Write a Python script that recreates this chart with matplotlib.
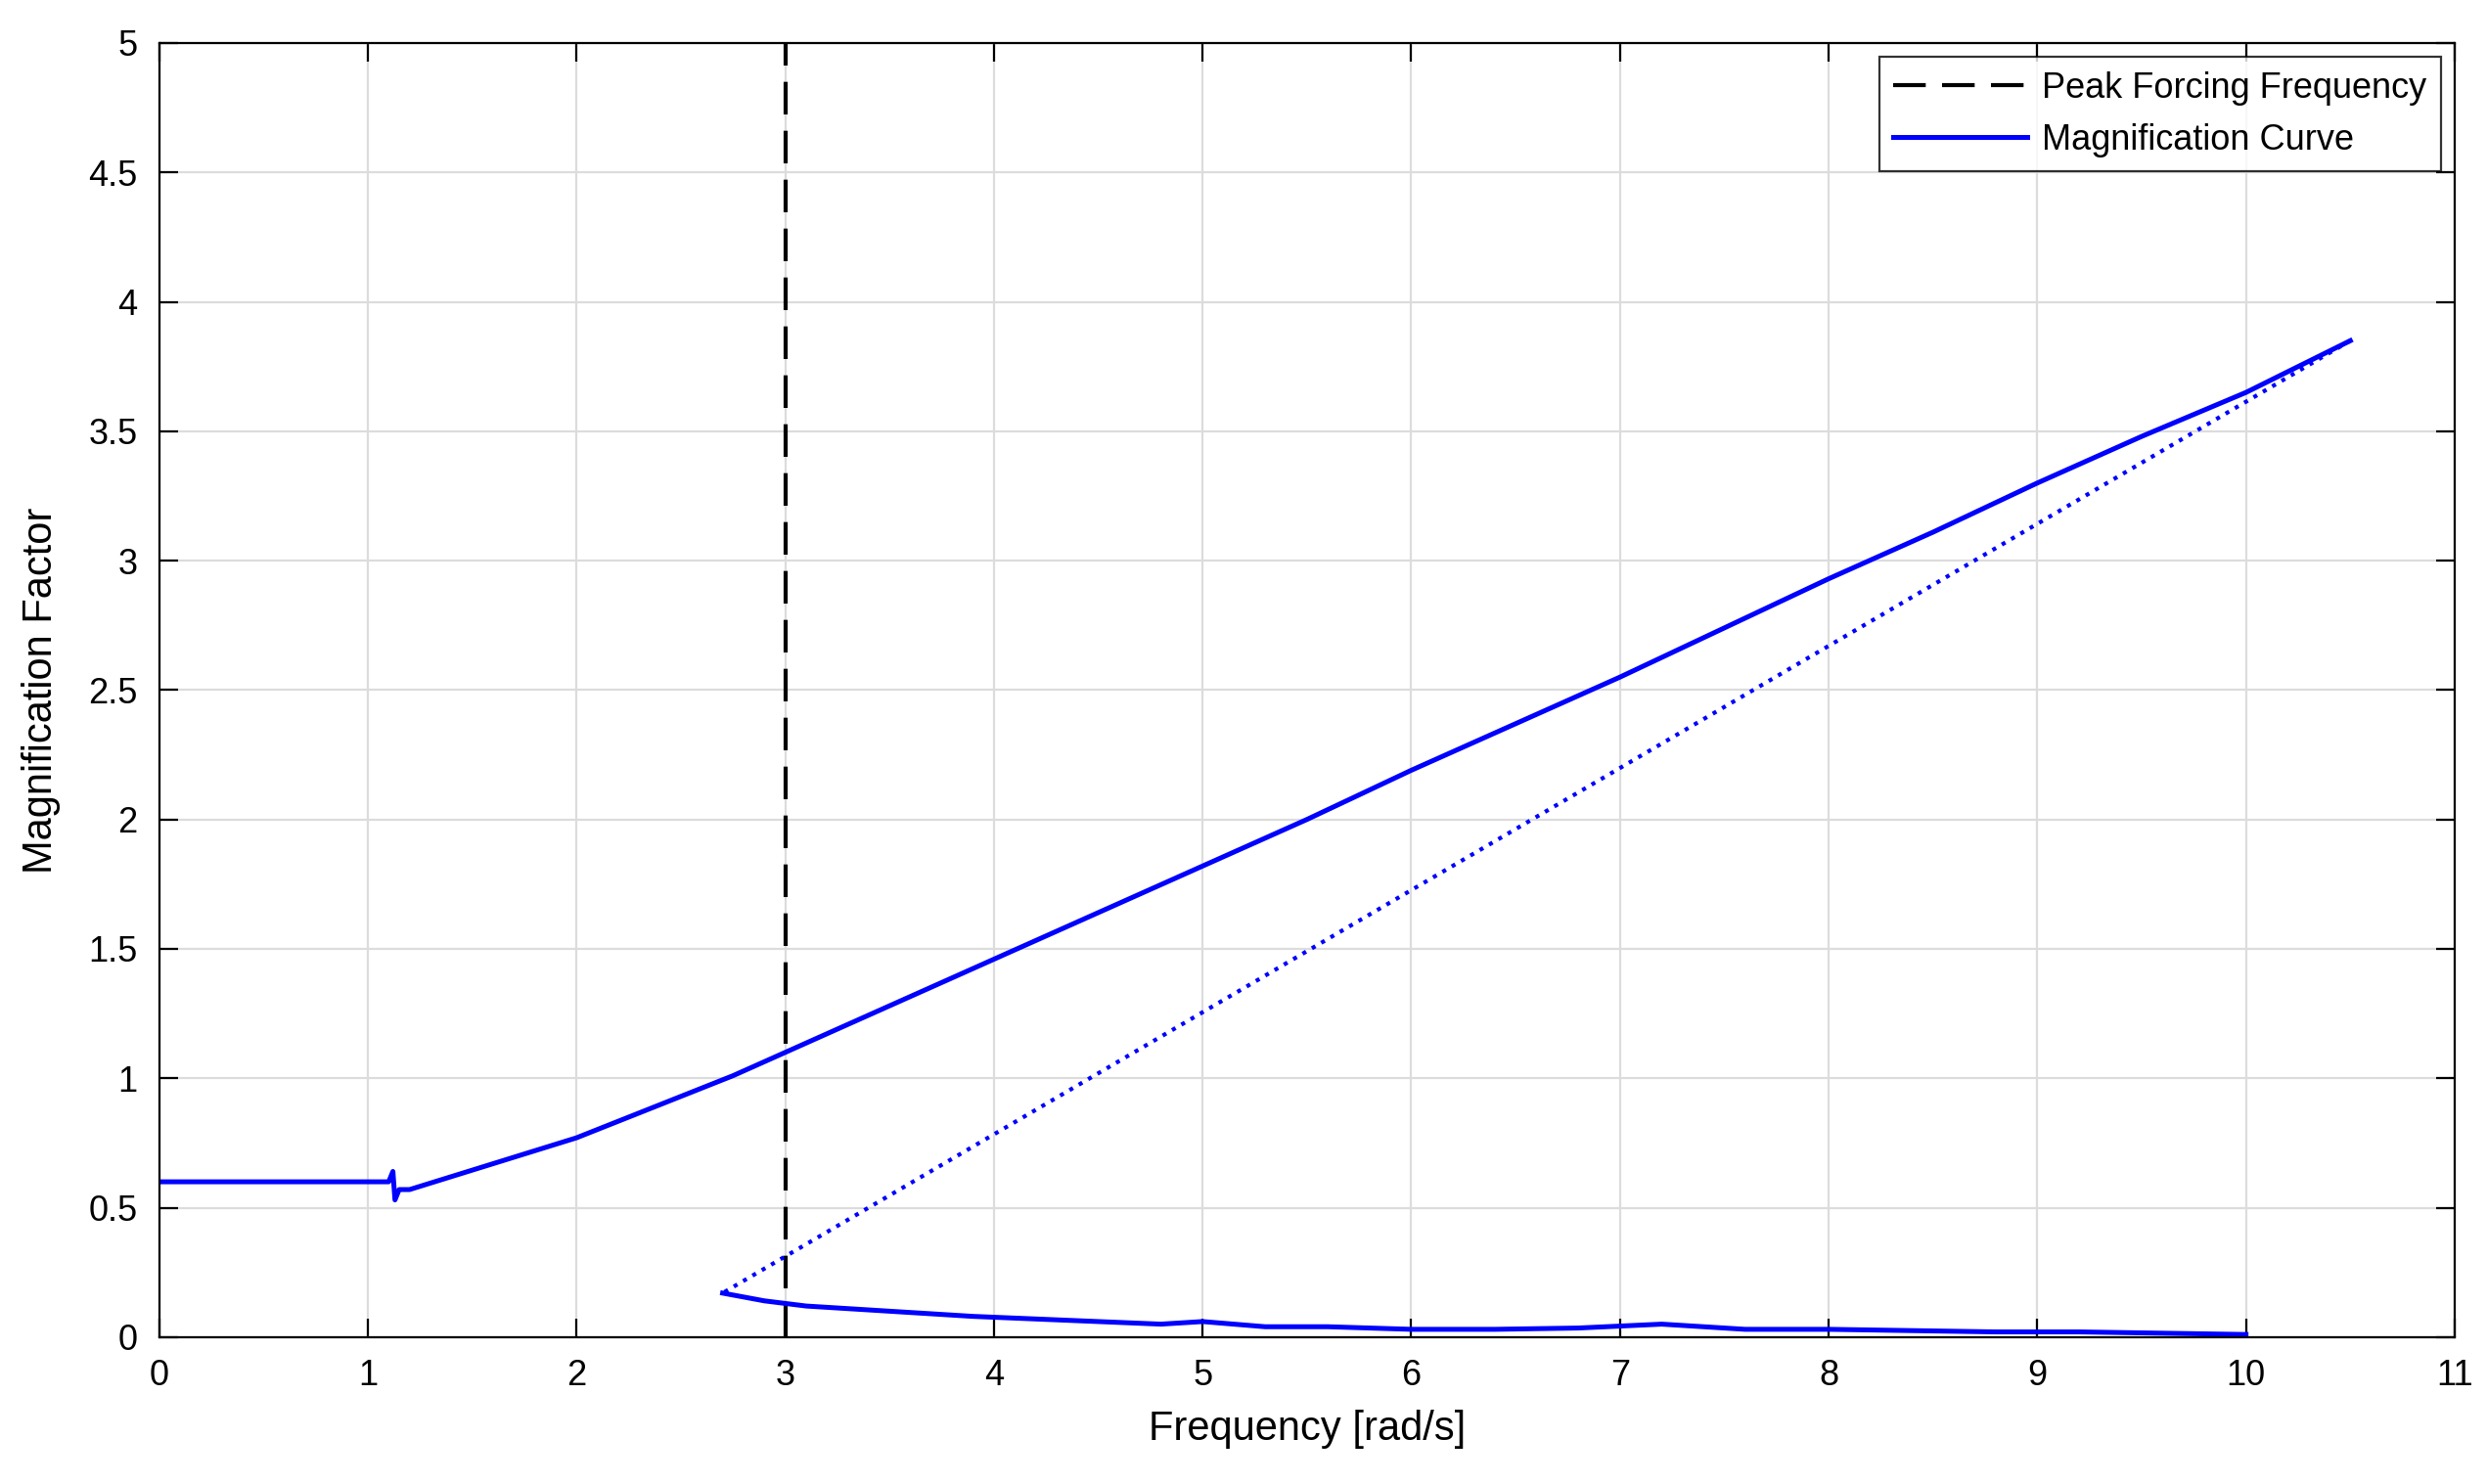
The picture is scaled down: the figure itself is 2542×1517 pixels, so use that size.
import matplotlib
matplotlib.use('Agg')
import matplotlib.pyplot as plt

plt.rcParams['font.family'] = ['Liberation Sans', 'DejaVu Sans']

# upper branch of the magnification curve
up_freq = [0.0, 1.10, 1.12, 1.13, 1.15, 1.2, 1.4, 1.6, 1.8, 2.0, 2.25, 2.5, 2.75, 3.0, 3.5,
           4.0, 4.5, 5.0, 5.5, 6.0, 6.5, 7.0, 7.5, 8.0, 8.5, 9.0, 9.5, 10.0, 10.5]
up_mag = [0.60, 0.60, 0.64, 0.53, 0.57, 0.57, 0.62, 0.67, 0.72, 0.77, 0.85, 0.93, 1.01,
          1.10, 1.28, 1.46, 1.64, 1.82, 2.00, 2.19, 2.37, 2.55, 2.74, 2.93, 3.11, 3.30,
          3.48, 3.65, 3.85]

# jump down (dotted)
jump_freq = [10.5, 2.7]
jump_mag = [3.85, 0.17]

# lower branch
low_freq = [2.7, 2.9, 3.1, 3.3, 3.5, 3.7, 3.9, 4.2, 4.5, 4.8, 5.0, 5.3, 5.6, 6.0, 6.4,
            6.8, 7.2, 7.6, 8.0, 8.4, 8.8, 9.2, 9.6, 10.0]
low_mag = [0.17, 0.14, 0.12, 0.11, 0.10, 0.09, 0.08, 0.07, 0.06, 0.05, 0.06, 0.04, 0.04,
           0.03, 0.03, 0.035, 0.05, 0.03, 0.03, 0.025, 0.02, 0.02, 0.015, 0.01]

peak_freq = 3.0

fig = plt.figure(figsize=(12.71, 7.585), dpi=200)
ax = fig.add_axes([0.064, 0.099, 0.923, 0.872])
ax.set_position([0.064, 0.099, 0.923, 0.872])

ax.axvline(peak_freq, color='k', linestyle=(0, (8, 4)), linewidth=1.5, label='Peak Forcing Frequency')
ax.plot(up_freq, up_mag, color='blue', linewidth=1.8, label='Magnification Curve')
ax.plot(jump_freq, jump_mag, color='blue', linestyle=':', linewidth=1.5)
ax.plot(low_freq, low_mag, color='blue', linewidth=1.8)

ax.set_xlim(0, 11)
ax.set_ylim(0, 5)
ax.set_xticks(range(0, 12))
ax.set_yticks([0, 0.5, 1, 1.5, 2, 2.5, 3, 3.5, 4, 4.5, 5])
ax.set_yticklabels(['0', '0.5', '1', '1.5', '2', '2.5', '3', '3.5', '4', '4.5', '5'])
ax.tick_params(direction='in', top=True, right=True, labelsize=13, length=7, pad=8)
ax.grid(True, color='#dcdcdc', linewidth=0.8)
ax.set_axisbelow(True)
for s in ax.spines.values():
    s.set_linewidth(0.8)

ax.set_xlabel('Frequency [rad/s]', fontsize=15, labelpad=6)
ax.set_ylabel('Magnification Factor', fontsize=15, labelpad=10)

leg = ax.legend(loc='upper right', fontsize=13, fancybox=False, edgecolor='k',
                handlelength=3.8, borderaxespad=0.4, handletextpad=0.4)
leg.get_frame().set_linewidth(0.8)

fig.savefig('out.png', dpi=200)
